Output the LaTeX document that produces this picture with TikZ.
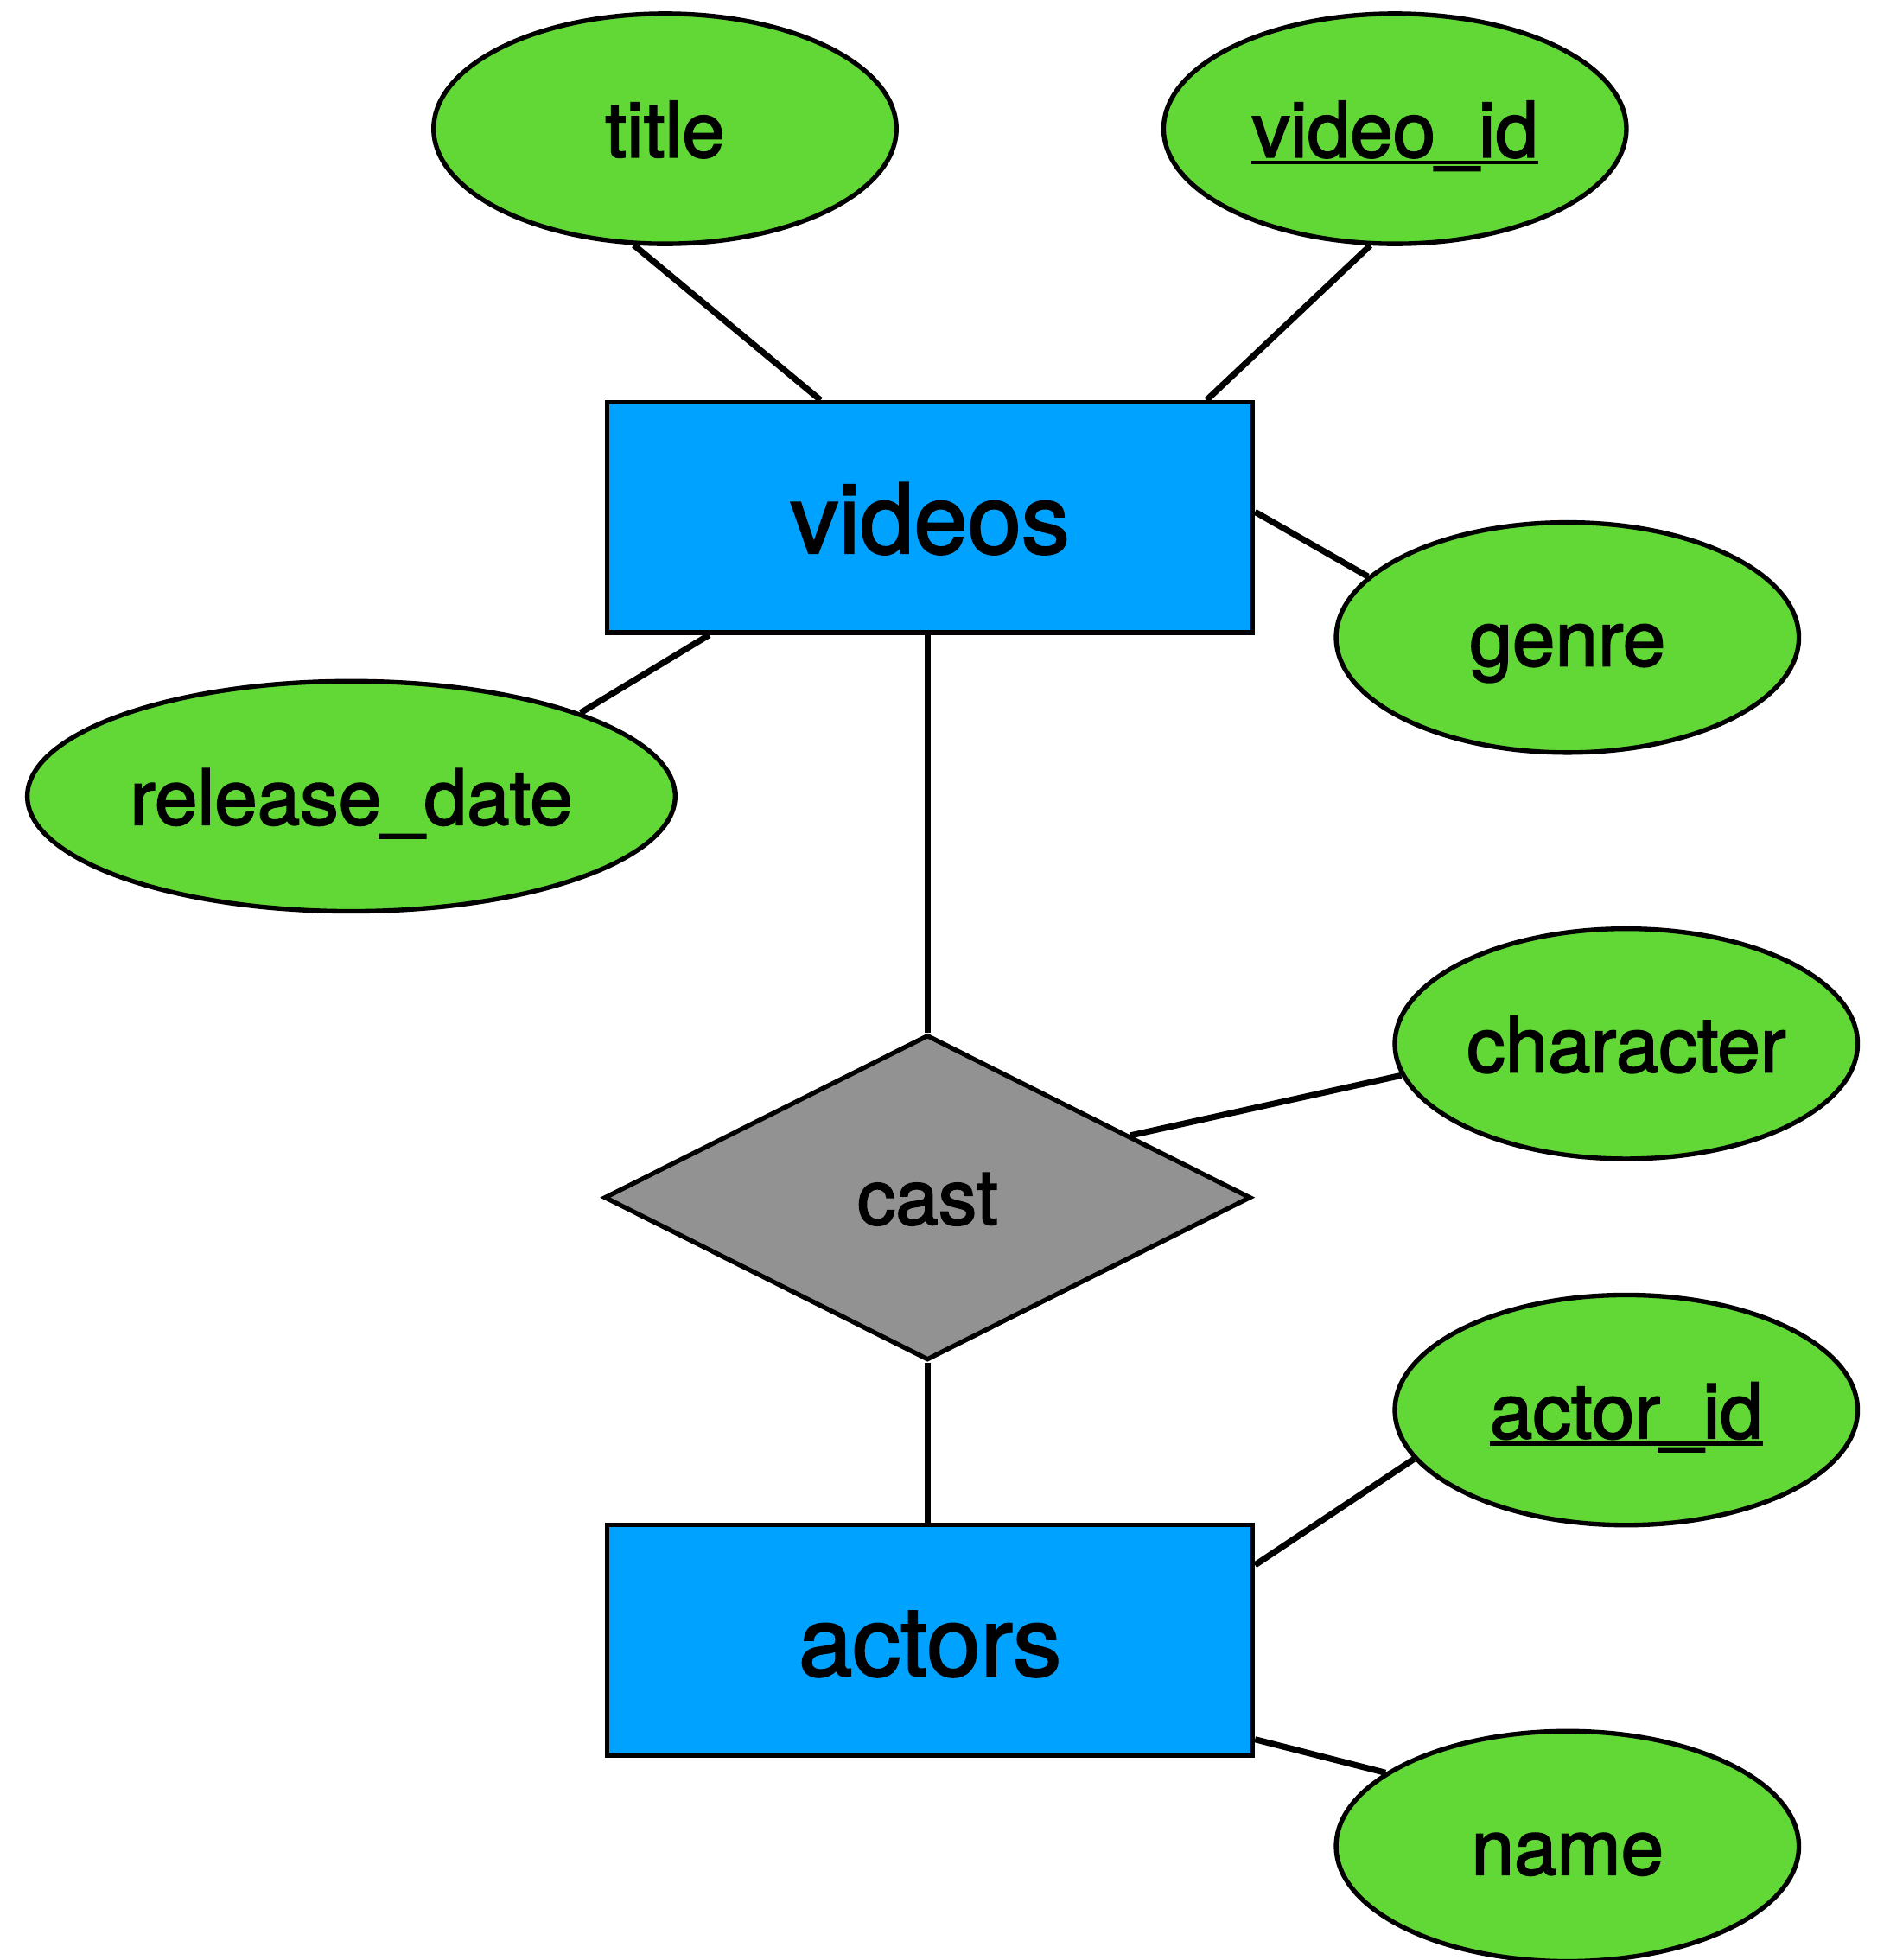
\documentclass[tikz,border=0pt]{standalone}
\usepackage{fontspec}
\setmainfont{TeX Gyre Heros}[FakeBold=2]
\usetikzlibrary{shapes.geometric}
\definecolor{attrgreen}{HTML}{61D836}
\definecolor{entblue}{HTML}{00A2FF}
\definecolor{relgray}{HTML}{929292}
\newcommand{\keyul}[1]{\setbox0\hbox{#1}\rlap{\rule[-0.095em]{\wd0}{0.05em}}\box0}
\tikzset{
  attr/.style={ellipse, draw=black, line width=1.05pt, fill=attrgreen, inner sep=0pt,
    minimum width=3.70cm, minimum height=1.84cm, font=\fontsize{17.5}{20}\selectfont,
    text height=0.452cm, text depth=0pt},
  entity/.style={rectangle, draw=black, line width=1.05pt, fill=entblue, inner sep=0pt,
    minimum width=5.16cm, minimum height=1.84cm, font=\fontsize{22}{26}\selectfont,
    text height=0.57cm, text depth=0pt},
  rel/.style={diamond, draw=black, line width=1.05pt, fill=relgray, inner sep=0pt,
    minimum width=5.17cm, minimum height=2.60cm, font=\fontsize{17.5}{20}\selectfont,
    text height=0.43cm, text depth=0pt},
  link/.style={draw=black, line width=1.4pt}
}
\begin{document}
\begin{tikzpicture}[x=0.01cm, y=-0.01cm]
\useasboundingbox (0,0) rectangle (1512,1568);
\node[attr] (title) at (532,103) {title};
\node[attr] (videoid) at (1116,103) {\keyul{video\_id}};
\node[entity] (videos) at (744,414) {videos};
\node[attr] (genre) at (1254,510) {genre};
\node[attr, minimum width=5.18cm] (release) at (281,637) {release\_date};
\node[attr] (character) at (1301,835) {character};
\node[rel] (cast) at (742,958) {cast};
\node[attr] (actorid) at (1301,1128) {\keyul{actor\_id}};
\node[entity] (actors) at (744,1312) {actors};
\node[attr] (name) at (1254,1477) {name};

\draw[link] (title.255) -- (videos.133.7);
\draw[link] (videoid.258.3) -- (videos.23.1);
\draw[link] (videos.1.1) -- (genre.163.7);
\draw[link] (videos.208.1) -- (release.20.2);
\draw[link] (videos.south -| cast.north) -- (cast.north);
\draw[link] (cast.17.9) -- (character.188);
\draw[link] (cast.south) -- (actors.north -| cast.south);
\draw[link] (actors.13.7) -- (actorid.193.4);
\draw[link] (actors.-17.8) -- (name.158.8);
\end{tikzpicture}
\end{document}
